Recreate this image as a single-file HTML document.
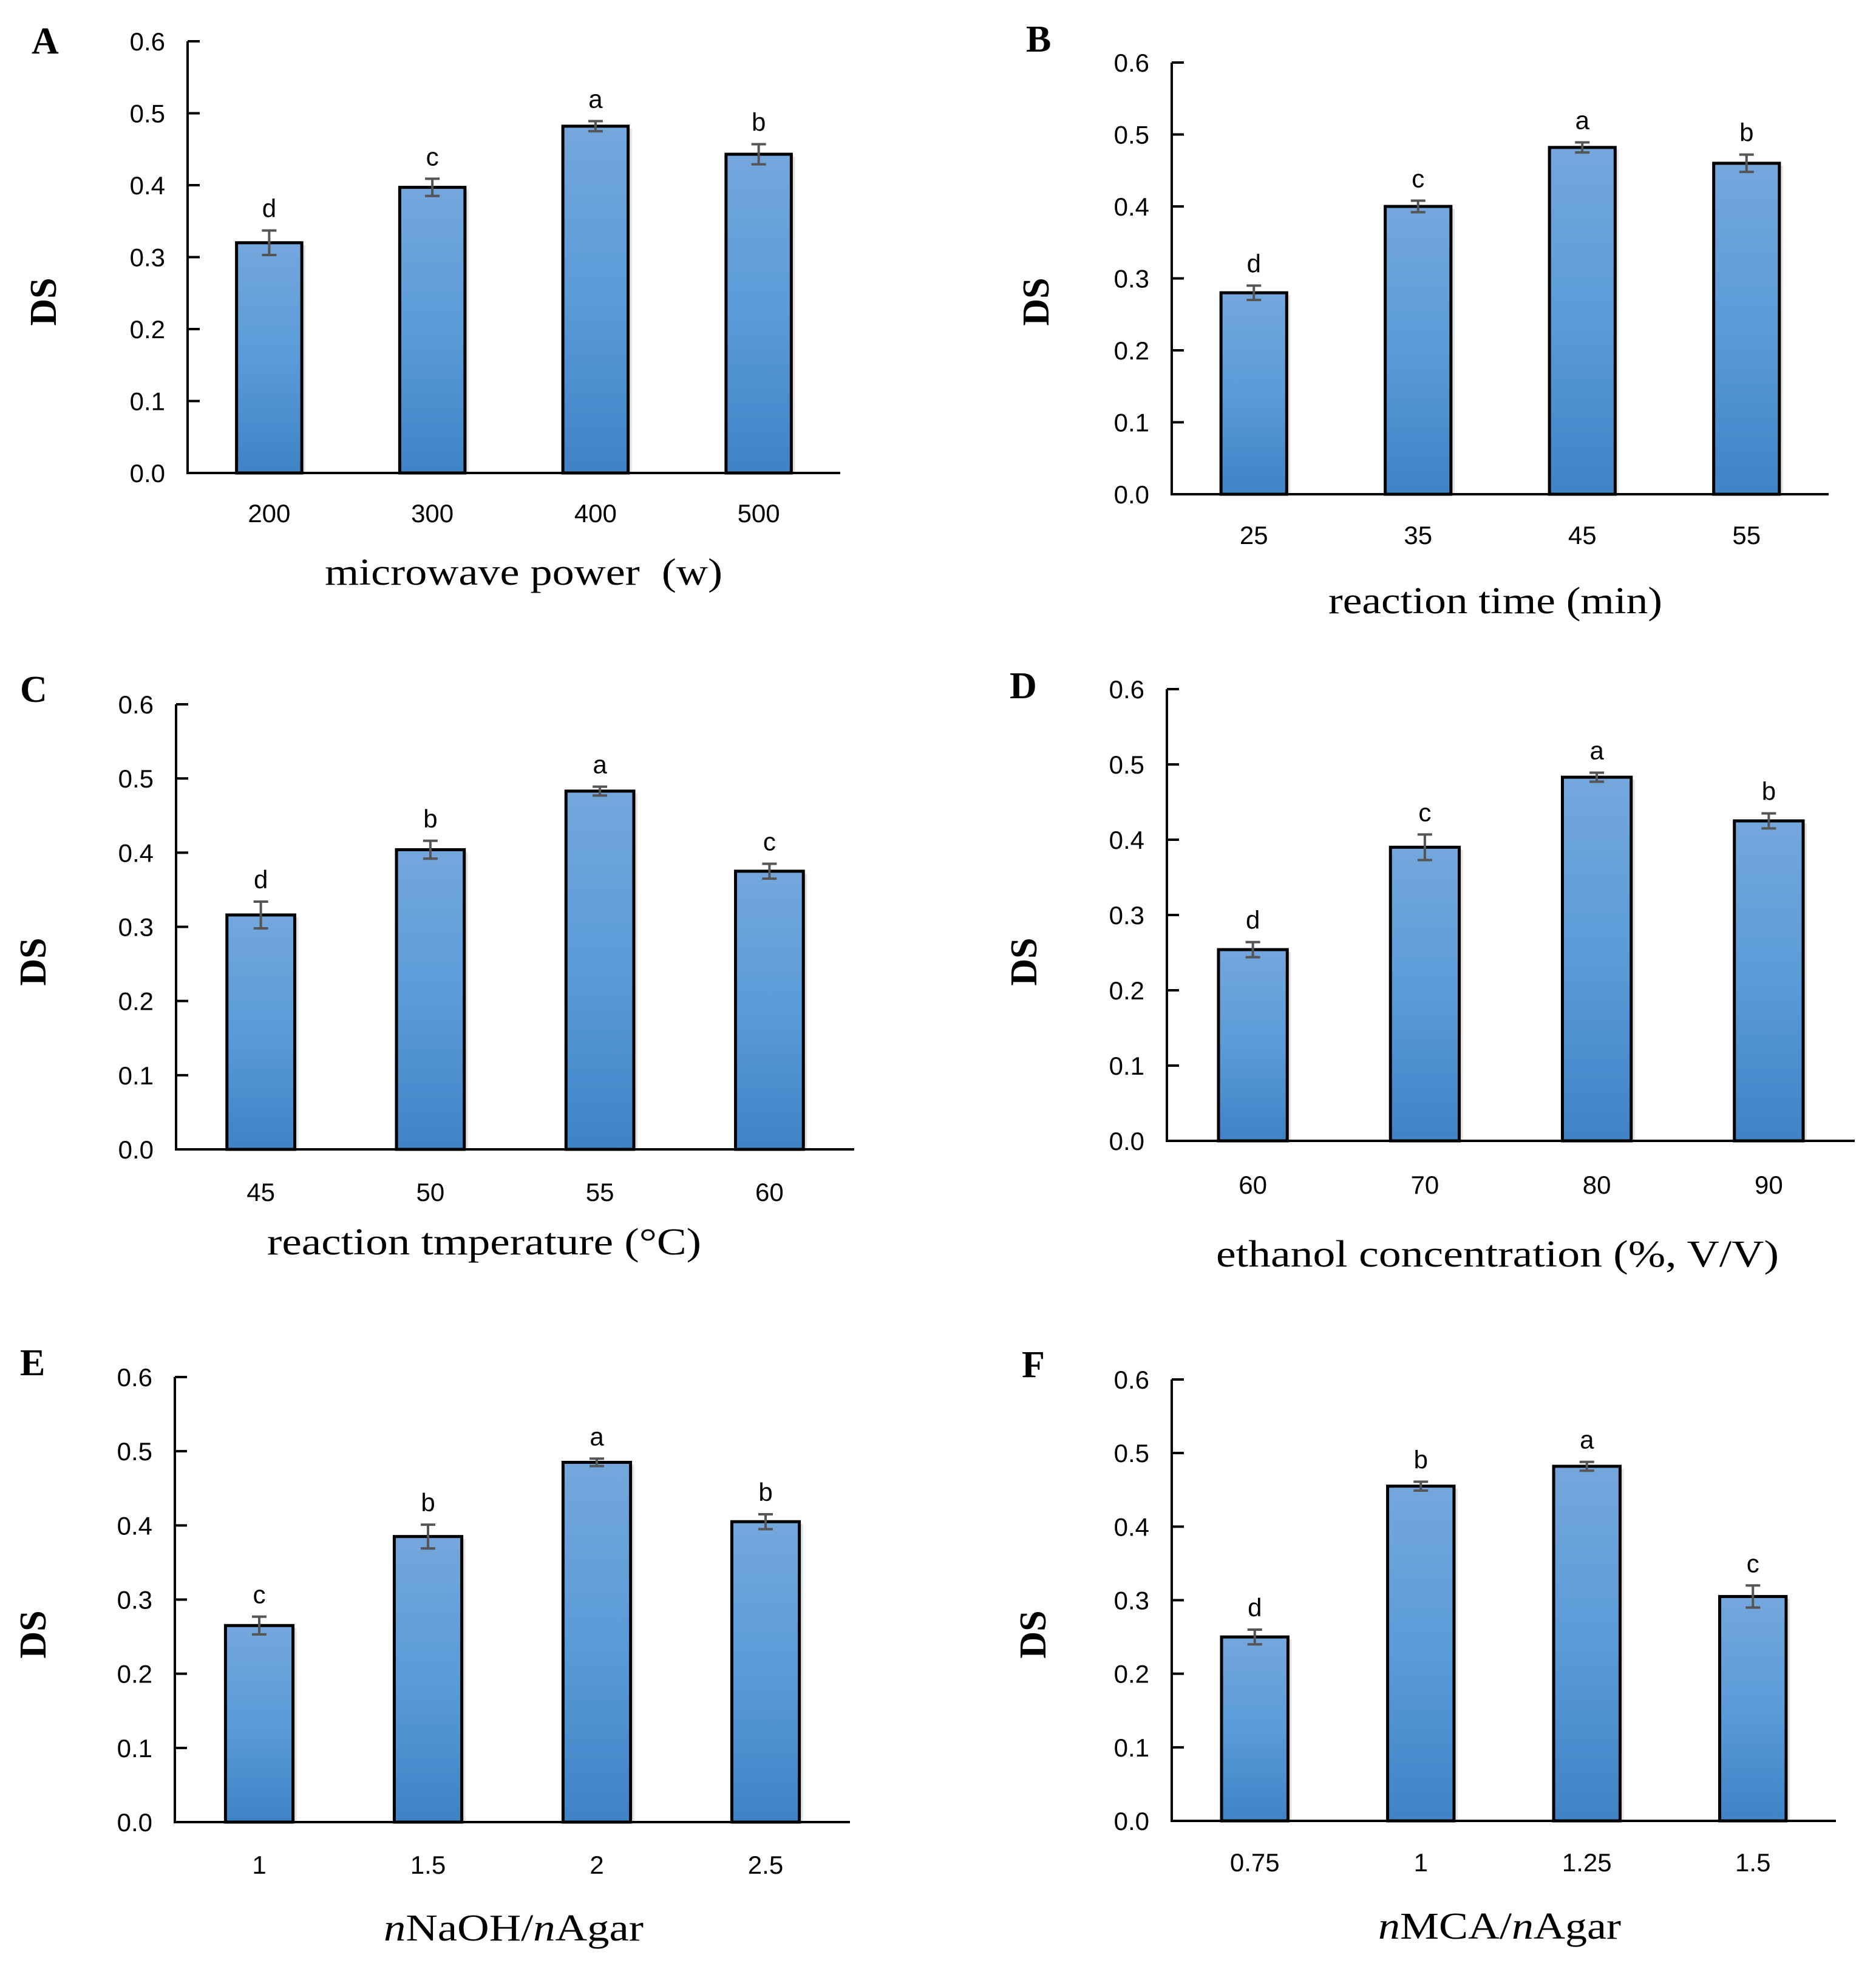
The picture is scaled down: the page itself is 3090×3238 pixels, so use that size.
<!DOCTYPE html>
<html><head><meta charset="utf-8"><style>
html,body{margin:0;padding:0;background:#fff;}
svg{display:block;}
</style></head><body>
<svg id="fig" width="3090" height="3238" viewBox="0 0 3090 3238" xmlns="http://www.w3.org/2000/svg">
<defs><linearGradient id="barGrad" x1="0" y1="0" x2="0" y2="1"><stop offset="0" stop-color="#74a7dc"/><stop offset="0.5" stop-color="#5a9bd9"/><stop offset="1" stop-color="#3f83c5"/></linearGradient></defs>
</svg>
<script>
// Data arrays
const categoriesA = ["200","300","400","500"];
const valuesA = [0.320,0.397,0.482,0.443];
const errorsA = [0.017,0.012,0.007,0.014];
const lettersA = ["d","c","a","b"];
const categoriesB = ["25","35","45","55"];
const valuesB = [0.280,0.400,0.482,0.460];
const errorsB = [0.010,0.008,0.007,0.012];
const lettersB = ["d","c","a","b"];
const categoriesC = ["45","50","55","60"];
const valuesC = [0.316,0.404,0.483,0.375];
const errorsC = [0.018,0.012,0.006,0.010];
const lettersC = ["d","b","a","c"];
const categoriesD = ["60","70","80","90"];
const valuesD = [0.254,0.390,0.483,0.425];
const errorsD = [0.010,0.017,0.006,0.010];
const lettersD = ["d","c","a","b"];
const categoriesE = ["1","1.5","2","2.5"];
const valuesE = [0.265,0.385,0.485,0.405];
const errorsE = [0.012,0.016,0.005,0.010];
const lettersE = ["c","b","a","b"];
const categoriesF = ["0.75","1","1.25","1.5"];
const valuesF = [0.250,0.455,0.482,0.305];
const errorsF = [0.010,0.006,0.006,0.015];
const lettersF = ["d","b","a","c"];
const yTickLabels = ["0.0","0.1","0.2","0.3","0.4","0.5","0.6"];
const yTickValues = [0,0.1,0.2,0.3,0.4,0.5,0.6];

const NS="http://www.w3.org/2000/svg";
const svg=document.getElementById('fig');
function mk(tag,attrs,parent){const e=document.createElementNS(NS,tag);for(const k in attrs)e.setAttribute(k,attrs[k]);(parent||svg).appendChild(e);return e;}

const panels=[
 {id:"a",letter:"A",cats:categoriesA,vals:valuesA,errs:errorsA,lets:lettersA,x0:309,x1:1384,yt:68,yb:779,catY:860,titY:963,title:"microwave power\u00a0\u00a0(w)",titX0:535,titW:655,lx:52,ly:88,dsx:92,dsy:497},
 {id:"b",letter:"B",cats:categoriesB,vals:valuesB,errs:errorsB,lets:lettersB,x0:1930,x1:3012,yt:103,yb:814,catY:896,titY:1010,title:"reaction time (min)",titX0:2188,titW:550,lx:1690,ly:85,dsx:1727,dsy:497},
 {id:"c",letter:"C",cats:categoriesC,vals:valuesC,errs:errorsC,lets:lettersC,x0:290,x1:1407,yt:1160,yb:1893,catY:1978,titY:2066,title:"reaction tmperature (\u00b0C)",titX0:440,titW:715,lx:33,ly:1156,dsx:75,dsy:1584},
 {id:"d",letter:"D",cats:categoriesD,vals:valuesD,errs:errorsD,lets:lettersD,x0:1922,x1:3055,yt:1135,yb:1879,catY:1966,titY:2086,title:"ethanol concentration (%, V/V)",titX0:2003,titW:927,lx:1663,ly:1150,dsx:1707,dsy:1584},
 {id:"e",letter:"E",cats:categoriesE,vals:valuesE,errs:errorsE,lets:lettersE,x0:288,x1:1400,yt:2268,yb:3001,catY:3086,titY:3196,title:null,titX0:632,titW:428,lx:33,ly:2265,dsx:75,dsy:2692},
 {id:"f",letter:"F",cats:categoriesF,vals:valuesF,errs:errorsF,lets:lettersF,x0:1930,x1:3024,yt:2272,yb:2999,catY:3082,titY:3193,title:null,titX0:2270,titW:400,lx:1683,ly:2268,dsx:1722,dsy:2692}
];

panels.forEach(p=>{
 const g=mk('g',{});
 
 
 const yScale=v=>p.yb-(v/0.6)*(p.yb-p.yt);
 const band=(p.x1-p.x0)/p.cats.length;
 const xCenter=i=>p.x0+band*(i+0.5);
 const bw=band*0.4;
 const L=mk('text',{x:p.lx,y:p.ly,'font-family':'"Liberation Serif",serif','font-weight':'bold','font-size':62,fill:'#000'},g);
 L.textContent=p.letter;
 
 
 const ds=mk('text',{x:0,y:0,transform:`translate(${p.dsx},${p.dsy}) rotate(-90)`,'text-anchor':'middle','font-family':'"Liberation Serif",serif','font-weight':'bold','font-size':62,fill:'#000'},g);
 ds.textContent="DS";
 
 
 yTickValues.forEach((v,i)=>{
  const y=yScale(v);
  const t=mk('line',{x1:p.x0,x2:p.x0+20,y1:y,y2:y,stroke:'#000','stroke-width':4},g);
  
  
  const tl=mk('text',{x:p.x0-37,y:y+15,'text-anchor':'end','font-family':'"Liberation Sans",sans-serif','font-size':42,fill:'#000'},g);
  tl.textContent=yTickLabels[i];
  
  
 });
 p.vals.forEach((v,i)=>{
  const cx=xCenter(i), top=yScale(v);
  const sh=mk('rect',{x:cx-bw/2+6,y:top+4,width:bw,height:p.yb-top-4,fill:'#d9d9d9',opacity:0.7},g);
  
  
  const r=mk('rect',{x:cx-bw/2,y:top,width:bw,height:p.yb-top,fill:'url(#barGrad)',stroke:'#000','stroke-width':5},g);
  
  
  const eT=yScale(v+p.errs[i]), eB=yScale(v-p.errs[i]);
  const e1=mk('path',{d:`M${cx},${eT}V${eB}M${cx-12},${eT}H${cx+12}M${cx-12},${eB}H${cx+12}`,stroke:'#555','stroke-width':4,fill:'none'},g);
  
  
  const lt=mk('text',{x:cx,y:eT-22,'text-anchor':'middle','font-family':'"Liberation Sans",sans-serif','font-size':42,fill:'#000'},g);
  lt.textContent=p.lets[i];
  
  
  const cl=mk('text',{x:cx,y:p.catY,'text-anchor':'middle','font-family':'"Liberation Sans",sans-serif','font-size':42,fill:'#000'},g);
  cl.textContent=p.cats[i];
  
  
 });
 const ax=mk('path',{d:`M${p.x0},${p.yt}V${p.yb}H${p.x1}`,stroke:'#000','stroke-width':4,fill:'none'},g);
 
 
 const tt=mk('text',{x:p.titX0,y:p.titY,textLength:p.titW,lengthAdjust:'spacingAndGlyphs','font-family':'"Liberation Serif",serif','font-size':62,fill:'#000'},g);
 if(p.title){tt.textContent=p.title;}
 else{
  const parts=p.id==='e'?["n","NaOH/","n","Agar"]:["n","MCA/","n","Agar"];
  parts.forEach((s,k)=>{const ts=mk('tspan',{'font-style':k%2===0?'italic':'normal'},tt);ts.textContent=s;});
 }
 
 
});
</script>
</body></html>
